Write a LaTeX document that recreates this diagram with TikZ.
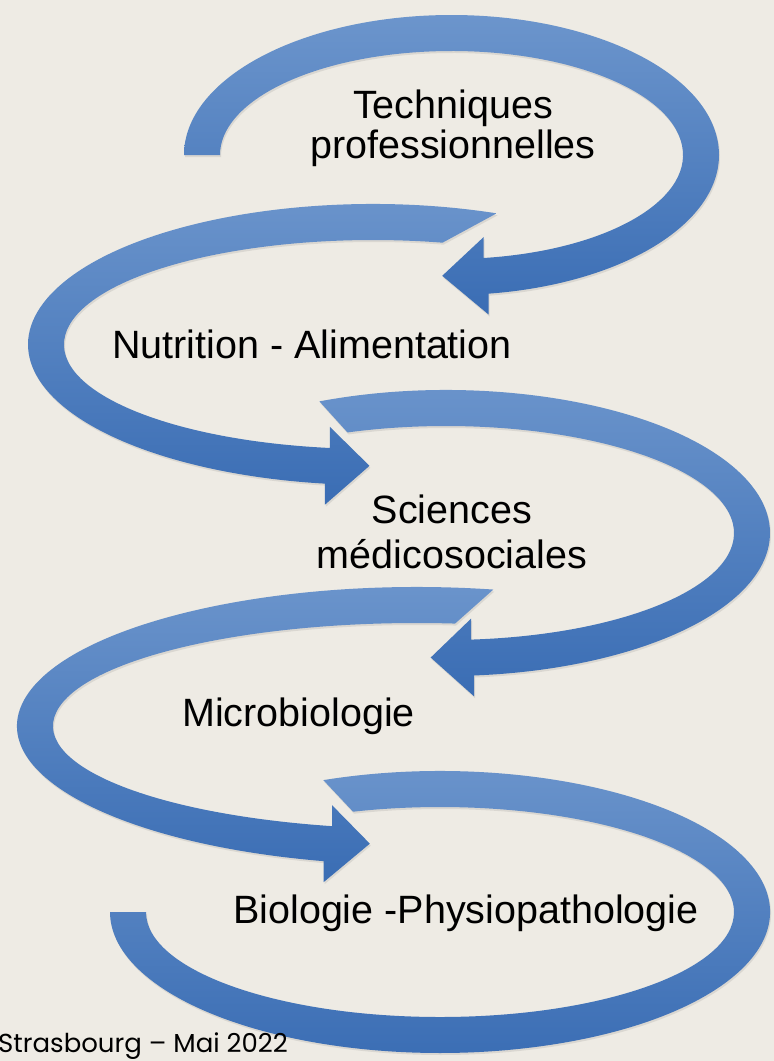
\documentclass[tikz,border=0pt]{standalone}
\usepackage{fontspec}
\setmainfont{Liberation Sans}
\newfontfamily\footfont{Poppins}
\usepackage{tikz}
\usetikzlibrary{calc,shadows}

\definecolor{paper}{RGB}{238,235,228}
\definecolor{bandtop}{RGB}{108,149,204}
\definecolor{bandbot}{RGB}{58,109,180}

% centre x, centre y, x radius, y radius, outer start, inner start, end, tip shift
\newcommand{\spiralband}[8]{%
  \pgfmathsetmacro\rxo{#3+18}\pgfmathsetmacro\ryo{#4+18}%
  \pgfmathsetmacro\rxi{#3-18}\pgfmathsetmacro\ryi{#4-18}%
  \path[band] ($(#1,#2)+(#5:\rxo\space and \ryo)$)
    arc[start angle=#5, end angle=#7, x radius=\rxo, y radius=\ryo]
    -- ($(#1,#2)+(#7:\rxo\space and \ryo)+(0,21)$)
    -- ($(#1,#2)+(#7:#3 and #4)+(#8,0)$)
    -- ($(#1,#2)+(#7:\rxi\space and \ryi)+(0,-21)$)
    -- ($(#1,#2)+(#7:\rxi\space and \ryi)$)
    arc[start angle=#7, end angle=#6, x radius=\rxi, y radius=\ryi]
    -- cycle;}

\begin{document}
\begin{tikzpicture}[x=1pt, y=-1pt,
    band/.style={top color=bandtop, bottom color=bandbot,
      drop shadow={opacity=0.18, shadow xshift=1pt, shadow yshift=-2pt}},
    lbl/.style={font=\fontsize{39.5}{40}\selectfont, inner sep=0pt, align=center}]
    \useasboundingbox (0,0) rectangle (774,1061);
    \fill[paper] (0,0) rectangle (774,1061);

    \spiralband{451.5}{155}{249.5}{122}{180}{180}{442}{-44}
    \spiralband{373}{344.5}{327}{122.5}{291}{283}{98}{42}
    \spiralband{446}{533}{306}{125}{247}{250}{445}{-42}
    \spiralband{417}{726}{382}{121}{281}{276}{103.5}{42}
    \path[band] ($(440,912)+(249.3:330 and 141)$)
        arc[start angle=249.3, end angle=540, x radius=330, y radius=141]
        -- ($(440,912)+(540:294 and 105)$)
        arc[start angle=540, end angle=252.8, x radius=294, y radius=105]
        -- cycle;

    \node[lbl, anchor=base] (tech) at (453,158) {Techniques\\professionnelles};
    \node[lbl, anchor=base west] (nutri) at (112,358) {Nutrition - Alimentation};
    \node[lbl, anchor=base, font=\fontsize{39.5}{45}\selectfont] (sci) at (452,568) {Sciences\\médicosociales};
    \node[lbl, anchor=base west] (micro) at (182,726) {Microbiologie};
    \node[lbl, anchor=base west] (bio) at (233,923) {Biologie -Physiopathologie};
    \node[anchor=base west, inner sep=0pt, font=\footfont\fontsize{26}{28}\selectfont] (foot) at (-2,1052) {Strasbourg – Mai 2022};
\end{tikzpicture}
\end{document}
